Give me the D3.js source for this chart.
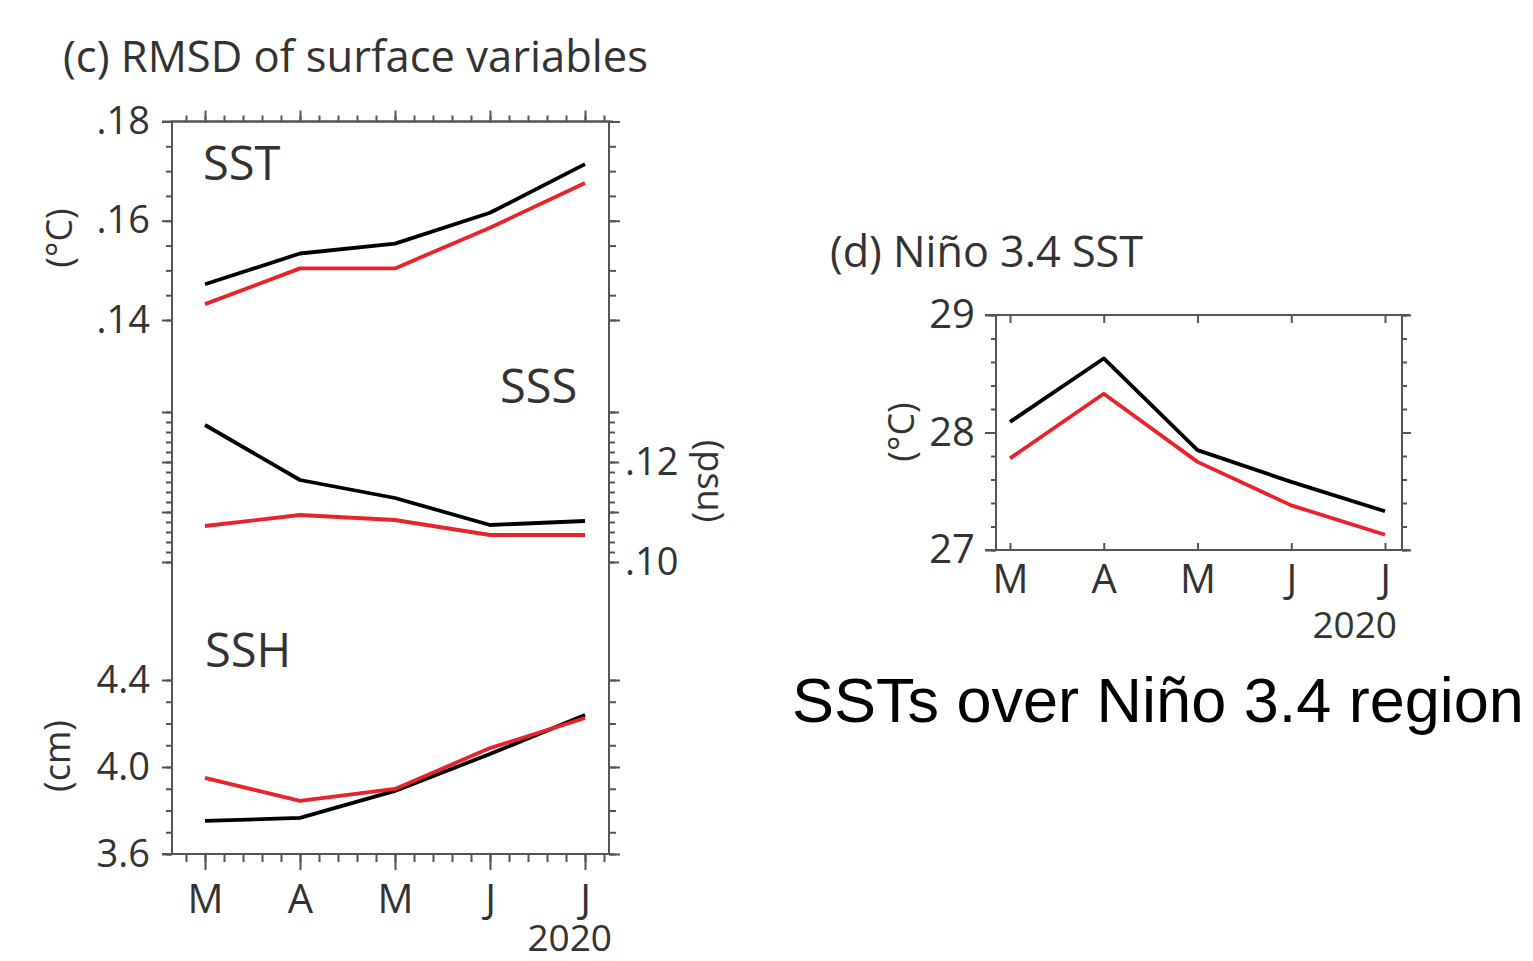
<!DOCTYPE html>
<html><head><meta charset="utf-8">
<script src="https://cdn.jsdelivr.net/npm/d3@7"></script>
<style>body{margin:0;background:#fff}svg{display:block}</style>
</head><body>
<svg id="chart" width="1533" height="961"></svg>
<script>
// ---------- data ----------
const months = ["M","A","M","J","J"];
const yearLabel = "2020";
const sstBlack = [0.1472, 0.1534, 0.1554, 0.1616, 0.1714];
const sstRed   = [0.1432, 0.1504, 0.1504, 0.1586, 0.1676];
const sssBlack = [0.1274, 0.1164, 0.1128, 0.1074, 0.1082];
const sssRed   = [0.1072, 0.1094, 0.1084, 0.1054, 0.1054];
const sshBlack = [3.752, 3.766, 3.890, 4.060, 4.239];
const sshRed   = [3.950, 3.844, 3.899, 4.087, 4.225];
const ninoBlack = [28.09, 28.63, 27.85, 27.58, 27.33];
const ninoRed   = [27.78, 28.33, 27.75, 27.38, 27.13];
const sstTicks = [0.14, 0.16, 0.18];
const sssTicks = [0.10, 0.11, 0.12, 0.13];
const sssLabeled = [0.10, 0.12];
const sshTicks = [3.6, 4.0, 4.4];
const ninoTicks = [27, 28, 29];

// ---------- setup ----------
const svg = d3.select("#chart");
const FONT = "'Open Sans','Noto Sans',sans-serif";
const TXT = "#333";
const AX = "#555";
const BLACK = "#000";
const RED = "#e8232b";

function axisG(axis, tx, ty, fs) {
  const g = svg.append("g").attr("transform", `translate(${tx},${ty})`).call(axis);
  g.select(".domain").remove();
  g.attr("font-family", FONT).attr("font-size", fs || 38);
  g.selectAll("line").attr("stroke", AX).attr("stroke-width", 2);
  g.selectAll("text").attr("fill", TXT);
  return g;
}
function addText(txt, x, y, opt) {
  opt = opt || {};
  const t = svg.append("text").attr("x", x).attr("y", y).text(txt)
    .attr("font-family", opt.font || FONT).attr("font-size", opt.fs || 38)
    .attr("fill", opt.fill || TXT).attr("text-anchor", opt.anchor || "start");
  if (opt.len) t.attr("textLength", opt.len).attr("lengthAdjust", "spacingAndGlyphs");
  if (opt.transform) t.attr("transform", opt.transform).attr("x", 0).attr("y", 0);
  return t;
}

// ---------- panel (c) ----------
const L = {x0: 172, x1: 609, y0: 121.5, y1: 854};
const xL = d3.scaleLinear().domain([0, 4]).range([205, 585]);
const ySST = d3.scaleLinear().domain([0.14, 0.18]).range([320, 121.5]);
const ySSS = d3.scaleLinear().domain([0.10, 0.13]).range([562, 412]);
const ySSH = d3.scaleLinear().domain([3.6, 4.4]).range([854, 680]);

const fmtDot = d => d3.format(".2f")(d).replace(/^0/, "");
const xMinor = d3.range(-1, 22).map(i => i * 0.2).filter(v => v > -0.34 && v < 4.26);

const sstMinor = d3.range(0, 9).map(i => 0.14 + i * 0.005);
const sssMinor = d3.range(0, 16).map(i => 0.10 + i * 0.002);
const sshMinor = d3.range(0, 9).map(i => 3.6 + i * 0.1);

axisG(d3.axisLeft(ySST).tickValues(sstMinor).tickSize(6).tickFormat(""), L.x0, 0);
axisG(d3.axisLeft(ySST).tickValues(sstTicks).tickSize(10).tickPadding(12).tickFormat(fmtDot), L.x0, 0);
axisG(d3.axisRight(ySST).tickValues(sstMinor).tickSize(7).tickFormat(""), L.x1, 0);
axisG(d3.axisRight(ySST).tickValues(sstTicks).tickSize(11).tickFormat(""), L.x1, 0);

axisG(d3.axisLeft(ySSS).tickValues(sssMinor).tickSize(6).tickFormat(""), L.x0, 0);
axisG(d3.axisLeft(ySSS).tickValues(sssTicks).tickSize(10).tickFormat(""), L.x0, 0);
axisG(d3.axisRight(ySSS).tickValues(sssMinor).tickSize(6).tickFormat(""), L.x1, 0);
axisG(d3.axisRight(ySSS).tickValues(sssTicks).tickSize(10).tickPadding(6)
  .tickFormat(d => sssLabeled.some(v => Math.abs(v - d) < 1e-9) ? fmtDot(d) : ""), L.x1, 0);

axisG(d3.axisLeft(ySSH).tickValues(sshMinor).tickSize(6).tickFormat(""), L.x0, 0);
axisG(d3.axisLeft(ySSH).tickValues(sshTicks).tickSize(10).tickPadding(12).tickFormat(d3.format(".1f")), L.x0, 0);
axisG(d3.axisRight(ySSH).tickValues(sshMinor).tickSize(7).tickFormat(""), L.x1, 0);
axisG(d3.axisRight(ySSH).tickValues(sshTicks).tickSize(11).tickFormat(""), L.x1, 0);

axisG(d3.axisTop(xL).tickValues(xMinor).tickSize(6).tickFormat(""), 0, L.y0);
axisG(d3.axisTop(xL).tickValues(d3.range(5)).tickSize(11).tickFormat(""), 0, L.y0);
axisG(d3.axisBottom(xL).tickValues(xMinor).tickSize(8).tickFormat(""), 0, L.y1);
const xbL = axisG(d3.axisBottom(xL).tickValues(d3.range(5)).tickSize(16).tickFormat(i => months[i]), 0, L.y1, 40);
xbL.selectAll("text").attr("y", 59).attr("dy", null);

svg.append("rect").attr("x", L.x0).attr("y", L.y0).attr("width", L.x1 - L.x0).attr("height", L.y1 - L.y0)
  .attr("fill", "none").attr("stroke", AX).attr("stroke-width", 2);
svg.append("line").attr("x1", L.x0 - 10).attr("x2", L.x1 + 4).attr("y1", L.y0).attr("y2", L.y0).attr("stroke", AX).attr("stroke-width", 2);
svg.append("line").attr("x1", L.x0 - 10).attr("x2", L.x1 + 4).attr("y1", L.y1).attr("y2", L.y1).attr("stroke", AX).attr("stroke-width", 2);

function drawLine(data, x, y, color) {
  svg.append("path").datum(data)
    .attr("d", d3.line().x((d, i) => x(i)).y(d => y(d)))
    .attr("fill", "none").attr("stroke", color).attr("stroke-width", 3.8)
    .attr("stroke-linejoin", "round").attr("stroke-linecap", "butt");
}
drawLine(sstBlack, xL, ySST, BLACK);
drawLine(sstRed, xL, ySST, RED);
drawLine(sssBlack, xL, ySSS, BLACK);
drawLine(sssRed, xL, ySSS, RED);
drawLine(sshBlack, xL, ySSH, BLACK);
drawLine(sshRed, xL, ySSH, RED);

addText("(c) RMSD of surface variables", 63, 72, {fs: 44, len: 585});
addText("SST", 203, 180, {fs: 47});
addText("SSS", 500, 403, {fs: 47});
addText("SSH", 205, 667, {fs: 47});
addText("(°C)", 0, 0, {fs: 36, anchor: "middle", transform: "translate(72,238) rotate(-90)"});
addText("(cm)", 0, 0, {fs: 36, anchor: "middle", transform: "translate(70,756) rotate(-90)"});
addText("(psu)", 0, 0, {fs: 36, anchor: "middle", transform: "translate(698,481) rotate(90)"});
addText(yearLabel, 612, 951, {fs: 37, anchor: "end"});

// ---------- panel (d) ----------
const R = {x0: 996, x1: 1402, y0: 315, y1: 550};
const xR = d3.scaleLinear().domain([0, 4]).range([1010, 1385]);
const yR = d3.scaleLinear().domain([27, 29]).range([550, 315]);
const ninoMinor = d3.range(0, 11).map(i => 27 + i * 0.2);

axisG(d3.axisLeft(yR).tickValues(ninoMinor).tickSize(5).tickFormat(""), R.x0, 0);
axisG(d3.axisLeft(yR).tickValues(ninoTicks).tickSize(11).tickPadding(10).tickFormat(d3.format("d")), R.x0, 0, 40);
axisG(d3.axisRight(yR).tickValues(ninoMinor).tickSize(5).tickFormat(""), R.x1, 0);
axisG(d3.axisRight(yR).tickValues(ninoTicks).tickSize(9).tickFormat(""), R.x1, 0);
axisG(d3.axisTop(xR).tickValues(d3.range(5)).tickSize(-8).tickFormat(""), 0, R.y0);
const xbR = axisG(d3.axisBottom(xR).tickValues(d3.range(5)).tickSize(-7).tickFormat(i => months[i]), 0, R.y1, 40);
xbR.selectAll("text").attr("y", 43).attr("dy", null);

svg.append("rect").attr("x", R.x0).attr("y", R.y0).attr("width", R.x1 - R.x0).attr("height", R.y1 - R.y0)
  .attr("fill", "none").attr("stroke", AX).attr("stroke-width", 2);
svg.append("line").attr("x1", R.x0 - 11).attr("x2", R.x1 + 8).attr("y1", R.y0).attr("y2", R.y0).attr("stroke", AX).attr("stroke-width", 2);
svg.append("line").attr("x1", R.x0 - 11).attr("x2", R.x1 + 8).attr("y1", R.y1).attr("y2", R.y1).attr("stroke", AX).attr("stroke-width", 2);

drawLine(ninoBlack, xR, yR, BLACK);
drawLine(ninoRed, xR, yR, RED);

addText("(d) Niño 3.4 SST", 830, 267, {fs: 44, len: 313});
addText("(°C)", 0, 0, {fs: 36, anchor: "middle", transform: "translate(914,432) rotate(-90)"});
addText(yearLabel, 1397, 638, {fs: 37, anchor: "end"});

addText("SSTs over Niño 3.4 region", 792, 722, {fs: 63, font: "'Liberation Sans',Arial,sans-serif", fill: "#000"});
</script>
</body></html>
